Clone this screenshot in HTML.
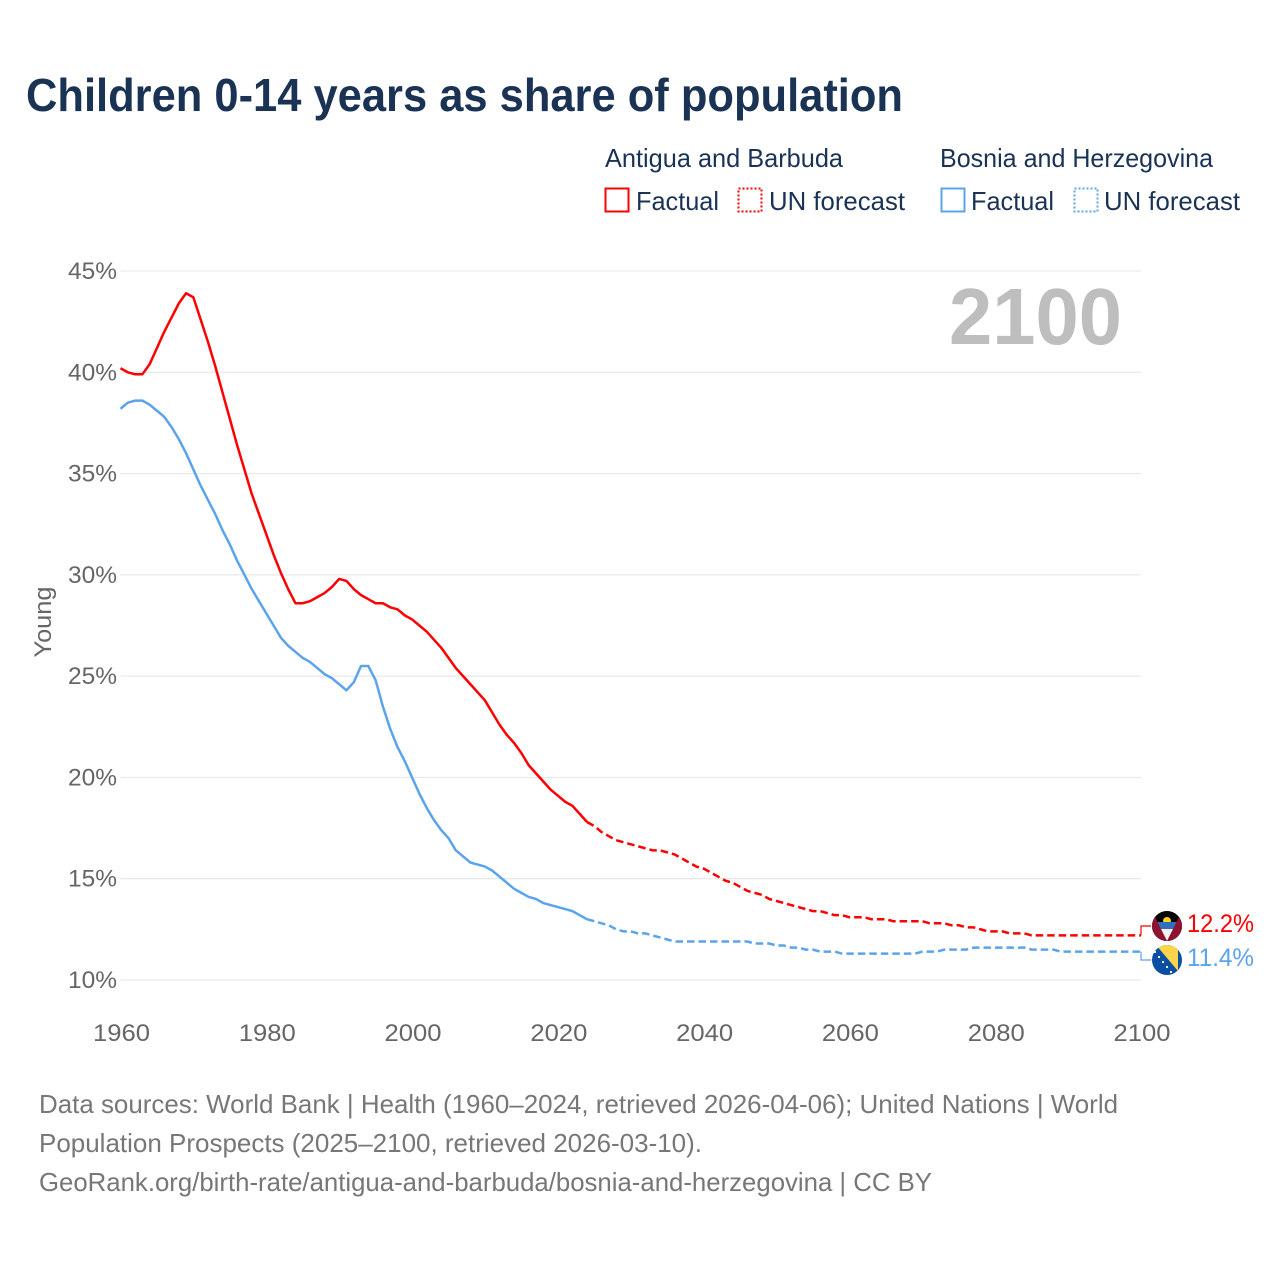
<!DOCTYPE html>
<html lang="en">
<head>
<meta charset="utf-8">
<title>Children 0-14 years as share of population</title>
<style>
html,body{margin:0;padding:0;background:#fff;width:1280px;height:1280px;overflow:hidden}
svg{display:block}
text{font-family:"Liberation Sans",sans-serif}
</style>
</head>
<body>
<svg id="chart" xmlns="http://www.w3.org/2000/svg" width="1280" height="1280" viewBox="0 0 1280 1280">
  <text x="26" y="111" font-size="46" font-weight="700" fill="#1a3355" textLength="877" lengthAdjust="spacingAndGlyphs">Children 0-14 years as share of population</text>

  <g font-size="26" fill="#1a3355">
    <text x="605" y="167" textLength="238" lengthAdjust="spacingAndGlyphs">Antigua and Barbuda</text>
    <text x="940" y="167" textLength="273" lengthAdjust="spacingAndGlyphs">Bosnia and Herzegovina</text>
    <g>
      <rect x="605.5" y="188.5" width="23" height="23" fill="none" stroke="#ff0000" stroke-width="2"/>
      <text x="636" y="210" textLength="83" lengthAdjust="spacingAndGlyphs">Factual</text>
    </g>
    <g>
      <rect x="738.5" y="188.5" width="23" height="23" fill="none" stroke="#ff0000" stroke-width="2" stroke-dasharray="2 2"/>
      <text x="769" y="210" textLength="136" lengthAdjust="spacingAndGlyphs">UN forecast</text>
    </g>
    <g>
      <rect x="941.5" y="188.5" width="23" height="23" fill="none" stroke="#5ba4ec" stroke-width="2"/>
      <text x="971" y="210" textLength="83" lengthAdjust="spacingAndGlyphs">Factual</text>
    </g>
    <g>
      <rect x="1074.5" y="188.5" width="23" height="23" fill="none" stroke="#5ba4ec" stroke-width="2" stroke-dasharray="2 2"/>
      <text x="1104" y="210" textLength="136" lengthAdjust="spacingAndGlyphs">UN forecast</text>
    </g>
  </g>

  <g id="grid"></g>
  <g id="yticks" font-size="24" fill="#666"></g>
  <g id="xticks" font-size="24" fill="#666"></g>
  <text transform="translate(51 622) rotate(-90)" text-anchor="middle" font-size="24" fill="#666" textLength="71" lengthAdjust="spacingAndGlyphs">Young</text>
  <text x="949" y="344" font-size="80" font-weight="700" fill="#bebebe" textLength="173" lengthAdjust="spacingAndGlyphs">2100</text>

  <g id="series"></g>

  <g>
    <clipPath id="clip-ag"><circle cx="1167" cy="926" r="15"/></clipPath>
    <g clip-path="url(#clip-ag)">
      <rect x="1152" y="911" width="30" height="30" fill="#000"/>
      <circle cx="1167" cy="921" r="4" fill="#fcd116"/>
      <rect x="1152" y="922" width="30" height="7" fill="#2f6fc0"/>
      <polygon points="1158,929 1176,929 1167,941" fill="#f2f2f2"/>
      <polygon points="1152,911 1167,941 1152,941" fill="#8f1230"/>
      <polygon points="1182,911 1167,941 1182,941" fill="#8f1230"/>
    </g>
  </g>
  <g>
    <clipPath id="clip-ba"><circle cx="1167" cy="960" r="15"/></clipPath>
    <g clip-path="url(#clip-ba)">
      <rect x="1152" y="945" width="30" height="30" fill="#0b4ea2"/>
      <polygon points="1156,945 1178,945 1178,971" fill="#fdd54a"/>
      <g fill="#fff">
        <circle cx="1155" cy="952" r="1.1"/><circle cx="1159" cy="957" r="1.1"/>
        <circle cx="1163" cy="962" r="1.1"/><circle cx="1167" cy="967" r="1.1"/>
        <circle cx="1171" cy="972" r="1.1"/>
      </g>
    </g>
  </g>
  <text x="1187" y="932" font-size="25" fill="#ff0000" textLength="67" lengthAdjust="spacingAndGlyphs">12.2%</text>
  <text x="1187" y="966" font-size="25" fill="#5ba4ec" textLength="67" lengthAdjust="spacingAndGlyphs">11.4%</text>

  <g font-size="26" fill="#777">
    <text x="39" y="1113" textLength="1079" lengthAdjust="spacingAndGlyphs">Data sources: World Bank | Health (1960–2024, retrieved 2026-04-06); United Nations | World</text>
    <text x="39" y="1152" textLength="663" lengthAdjust="spacingAndGlyphs">Population Prospects (2025–2100, retrieved 2026-03-10).</text>
    <text x="39" y="1191" textLength="893" lengthAdjust="spacingAndGlyphs">GeoRank.org/birth-rate/antigua-and-barbuda/bosnia-and-herzegovina | CC BY</text>
  </g>
</svg>

<script>
const yTicks = [10, 15, 20, 25, 30, 35, 40, 45];
const xTicks = [1960, 1980, 2000, 2020, 2040, 2060, 2080, 2100];
const factualStartYear = 1960;
const forecastStartYear = 2025;

const antiguaFactual = [
  40.2,40.0,39.9,39.9,40.4,41.2,42.0,42.7,43.4,43.9,
  43.7,42.6,41.5,40.3,39.0,37.7,36.4,35.2,34.0,33.0,
  32.0,31.0,30.1,29.3,28.6,28.6,28.7,28.9,29.1,29.4,
  29.8,29.7,29.3,29.0,28.8,28.6,28.6,28.4,28.3,28.0,
  27.8,27.5,27.2,26.8,26.4,25.9,25.4,25.0,24.6,24.2,
  23.8,23.2,22.6,22.1,21.7,21.2,20.6,20.2,19.8,19.4,
  19.1,18.8,18.6,18.2,17.8
];
const antiguaForecast = [
  17.6,17.3,17.1,16.9,16.8,
  16.7,16.6,16.5,16.4,16.4,16.3,16.2,16.0,15.8,15.6,
  15.5,15.3,15.1,14.9,14.8,14.6,14.4,14.3,14.2,14.0,
  13.9,13.8,13.7,13.6,13.5,13.4,13.4,13.3,13.2,13.2,
  13.1,13.1,13.1,13.0,13.0,13.0,12.9,12.9,12.9,12.9,
  12.9,12.8,12.8,12.8,12.7,12.7,12.6,12.6,12.5,12.4,
  12.4,12.4,12.3,12.3,12.3,12.2,12.2,12.2,12.2,12.2,
  12.2,12.2,12.2,12.2,12.2,12.2,12.2,12.2,12.2,12.2,
  12.2
];
const bosniaFactual = [
  38.2,38.5,38.6,38.6,38.4,38.1,37.8,37.3,36.7,36.0,
  35.2,34.4,33.7,33.0,32.2,31.5,30.7,30.0,29.3,28.7,
  28.1,27.5,26.9,26.5,26.2,25.9,25.7,25.4,25.1,24.9,
  24.6,24.3,24.7,25.5,25.5,24.8,23.5,22.4,21.5,20.8,
  20.0,19.2,18.5,17.9,17.4,17.0,16.4,16.1,15.8,15.7,
  15.6,15.4,15.1,14.8,14.5,14.3,14.1,14.0,13.8,13.7,
  13.6,13.5,13.4,13.2,13.0
];
const bosniaForecast = [
  12.9,12.8,12.7,12.5,12.4,
  12.4,12.3,12.3,12.2,12.1,12.0,11.9,11.9,11.9,11.9,
  11.9,11.9,11.9,11.9,11.9,11.9,11.9,11.8,11.8,11.8,
  11.7,11.7,11.6,11.6,11.5,11.5,11.4,11.4,11.4,11.3,
  11.3,11.3,11.3,11.3,11.3,11.3,11.3,11.3,11.3,11.3,
  11.4,11.4,11.4,11.5,11.5,11.5,11.5,11.6,11.6,11.6,
  11.6,11.6,11.6,11.6,11.6,11.5,11.5,11.5,11.5,11.4,
  11.4,11.4,11.4,11.4,11.4,11.4,11.4,11.4,11.4,11.4,
  11.4
];

const NS = 'http://www.w3.org/2000/svg';
const xScale = year => 120.5 + (year - 1960) * (1141 - 120.5) / 140;
const yScale = pct => 980 - (pct - 10) * (980 - 271) / 35;

function makeEl(tag, parentId) {
  const el = document.createElementNS(NS, tag);
  document.getElementById(parentId).appendChild(el);
  return el;
}

yTicks.forEach(t => {
  const line = makeEl('line', 'grid');
  
  
  line.setAttribute('x1', xScale(1960));
  line.setAttribute('x2', xScale(2100));
  line.setAttribute('y1', yScale(t));
  line.setAttribute('y2', yScale(t));
  line.setAttribute('stroke', '#e4e4e4');
  line.setAttribute('stroke-width', '1');

  const label = makeEl('text', 'yticks');
  
  
  label.setAttribute('x', 117);
  label.setAttribute('y', yScale(t) + 8);
  label.setAttribute('text-anchor', 'end');
  label.setAttribute('textLength', '49');
  label.setAttribute('lengthAdjust', 'spacingAndGlyphs');
  label.textContent = t + '%';
});

xTicks.forEach(t => {
  const label = makeEl('text', 'xticks');
  
  
  label.setAttribute('x', xScale(t) + 1);
  label.setAttribute('y', 1041);
  label.setAttribute('text-anchor', 'middle');
  label.setAttribute('textLength', '57');
  label.setAttribute('lengthAdjust', 'spacingAndGlyphs');
  label.textContent = t;
});

function pointsFrom(values, startYear) {
  return values.map((v, i) => xScale(startYear + i).toFixed(2) + ',' + yScale(v).toFixed(2));
}

function drawSeries(name, colour, factual, forecast) {
  const solid = makeEl('polyline', 'series');
  
  
  solid.setAttribute('points', pointsFrom(factual, factualStartYear).join(' '));
  solid.setAttribute('fill', 'none');
  solid.setAttribute('stroke', colour);
  solid.setAttribute('stroke-width', '2.5');
  solid.setAttribute('stroke-linejoin', 'round');

  const lastFactual = pointsFrom(factual, factualStartYear).slice(-1);
  const dashed = makeEl('polyline', 'series');
  
  
  dashed.setAttribute('points', lastFactual.concat(pointsFrom(forecast, forecastStartYear)).join(' '));
  dashed.setAttribute('fill', 'none');
  dashed.setAttribute('stroke', colour);
  dashed.setAttribute('stroke-width', '2.5');
  dashed.setAttribute('stroke-dasharray', '7.5 4');
}

function drawConnector(name, colour, value, labelY) {
  const endX = xScale(2100);
  const endY = yScale(value);
  const link = makeEl('polyline', 'series');
  
  
  link.setAttribute('points', endX + ',' + endY + ' ' + endX + ',' + labelY + ' ' + (endX + 10) + ',' + labelY);
  link.setAttribute('fill', 'none');
  link.setAttribute('stroke', colour);
  link.setAttribute('stroke-width', '1.2');
}

drawSeries('antigua', '#ff0000', antiguaFactual, antiguaForecast);
drawSeries('bosnia', '#5ba4ec', bosniaFactual, bosniaForecast);
drawConnector('antigua', '#ff0000', antiguaForecast[antiguaForecast.length - 1], 926);
drawConnector('bosnia', '#5ba4ec', bosniaForecast[bosniaForecast.length - 1], 960);
</script>
</body>
</html>
